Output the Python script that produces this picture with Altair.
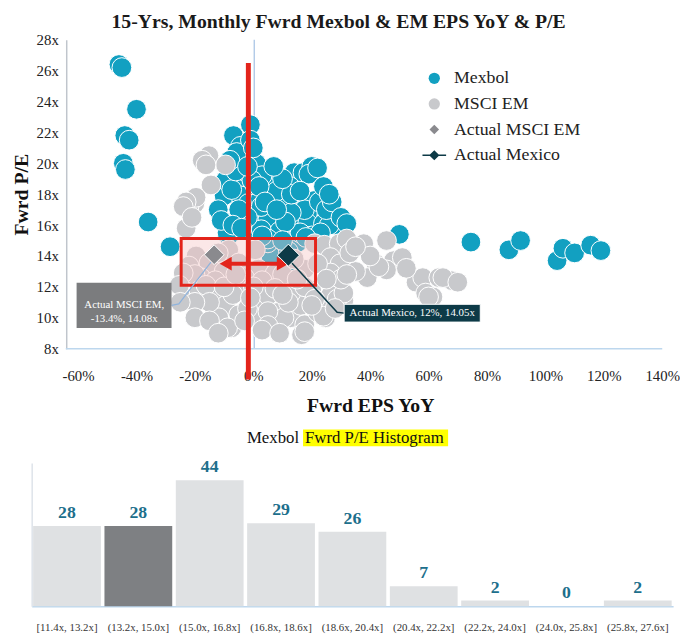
import altair as alt
import pandas as pd

FONT = "Liberation Serif"

# ---------------- data: scatter ----------------
mexbol_eps = [-46, -45, -40, -44, -42.5, -44.5, -43.8, -36, -28.5, -8.5,
              50, 74.5, 87.5, 91.5, 104, 106, 110, 115.5, 119,
              -1, -6.8, -4.4, -3.4, -5.7, -0.7, 1, -9, -10, -6,
              -2.7, -4.4, -1.7, 2.7, 6, 6.8, 14, 17, 20, 19,
              12.5, 11.8, 21, 18.6, 16, 10.8, 4, 1.7, 7.4, 14,
              18.6, 24, 28, 0.7, 8.4, -9.5, -7.4, 9, 17.5, 22.6,
              5, -9, 9, 2.4, 8.4, 11.8, 6, 5, 15, 2.7,
              26, 2.7, 5, 12, -2, -5, 1, -1, -3, 3,
              8, 13, 20, 23, 16, 11, 0.5, -0.5, 2,
              25, 27, 30, 32, 22, 24, 26, -12, -11, -7,
              -4, 3, 10, 18, -6, -8, 4, 8, 13, 16,
              10, 7, -2, 0]
mexbol_pe = [26.4, 26.2, 23.5, 21.8, 21.5, 20.0, 19.6, 16.2, 14.6, 15.3,
             15.4, 14.9, 14.4, 15.0, 13.7, 14.5, 14.2, 14.7, 14.35,
             22.5, 21.8, 21.1, 20.6, 20.7, 19.3, 18.8, 18.7, 17.9, 18.3,
             18.7, 17.9, 17.4, 18.0, 18.8, 17.4, 19.4, 19.4, 19.8, 19.3,
             18.5, 17.6, 17.6, 16.8, 16.6, 17.0, 16.8, 16.1, 15.9, 15.9,
             16.1, 16.1, 16.0, 15.6, 15.4, 18.9, 18.3, 17.5, 17.0, 17.5,
             16.4, 15.5, 15.6, 17.7, 13.7, 13.3, 14.0, 14.85, 14.85, 17.2,
             16.0, 15.7, 15.1, 14.3, 16.5, 17.0, 20.0, 21.5, 19.5, 19.2,
             18.2, 16.8, 15.3, 15.5, 15.5, 16.2, 18.6, 18.9, 18.5,
             17.0, 17.5, 16.5, 16.1, 19.7, 18.5, 18.0, 17.0, 16.3, 16.0,
             15.8, 15.3, 15.0, 15.2, 19.5, 20.2, 17.5, 17.0, 18.0, 18.2,
             19.0, 19.8, 19.8, 21.0]

msci_eps = [-15.2, -17.5, -9.5, -16.2, -14.5, -20, -22, -19.6, -23, -24, -23, -21,
            -19.6, -15.2, -22, -8.4, -5, 0.7, 1.7, 7.4, 17.6, 21,
            -12, -10, -3, 3, 10, 14, -18, -13, -20, -24,
            -23, -18.6, -12.8, -9.5, -11.8, -7.4, -5, 0.7, 1.7, 5,
            8.4, 12.8, 16.2, 17.6, 22, 26.4, 31, -25.3, -16.2, -4,
            7.4, 12.8, -8.8, 16.5, 24.7, 10.5, -15, -20, -2, 5,
            -7, 12, 20, -3,
            24.3, 29.4, 32, 37.8, 45.6, 26.4, 29.7, 26.4, 42, 48,
            45.6, 51, 39, 55.7, 58, 63.5, 68, 59, 61.5, 28.7,
            31, 24.3, 17.6, 21, 43, 52.4, 64.9, 60, 24, 17.6,
            35, 22, 33, 40, 70,
            -25, -20, -10, 0, 10, 15, 5, -15, 20, -12,
            3, 9, 28, 30, -6, -1, 25, 32, 35]
msci_pe = [20.5, 20.2, 19.9, 19.9, 18.6, 17.4, 17.2, 17.8, 17.5, 17.2, 15.8, 16.5,
           14.0, 13.55, 13.35, 14.4, 13.55, 14.4, 13.15, 12.85, 13.15, 14.8,
           14.2, 13.0, 12.6, 12.4, 12.8, 13.8, 12.6, 12.4, 12.8, 12.9,
           11.55, 11.75, 11.45, 10.8, 10.0, 9.35, 10.2, 11.0, 10.0, 11.45,
           10.35, 10.0, 10.8, 9.55, 10.35, 11.45, 11.1, 12.1, 12.1, 11.9,
           11.9, 11.6, 9.35, 8.9, 10.0, 10.0, 11.0, 11.0, 10.6, 10.4,
           11.5, 11.0, 11.8, 9.8,
           14.7, 14.8, 15.1, 14.8, 15.0, 13.9, 13.5, 12.9, 13.5, 13.7,
           13.1, 13.9, 12.6, 12.3, 12.6, 12.6, 12.4, 11.6, 11.35, 11.2,
           11.6, 10.4, 12.0, 11.2, 13.3, 13.2, 12.6, 11.35, 10.1, 9.1,
           13.0, 13.5, 14.2, 14.0, 12.3,
           11.0, 10.0, 12.0, 12.0, 11.5, 12.5, 9.5, 9.8, 10.8, 9.0,
           9.2, 9.0, 10.6, 12.5, 12.8, 11.3, 12.5, 12.8, 14.6]

actual_em_eps, actual_em_pe = -13.4, 14.08
actual_mx_eps, actual_mx_pe = 12.0, 14.05

series_names = ["Mexbol", "MSCI EM", "Actual MSCI EM", "Actual Mexico"]
series_colors = ["#12a0c1", "#c8c9cc", "#8a8a8e", "#0d3a47"]

y_ticks = [8, 10, 12, 14, 16, 18, 20, 22, 24, 26, 28]
x_ticks = [-60, -40, -20, 0, 20, 40, 60, 80, 100, 120, 140]

# ---------------- data: histogram ----------------
hist_bins = ["[11.4x, 13.2x]", "(13.2x, 15.0x]", "(15.0x, 16.8x]", "(16.8x, 18.6x]",
             "(18.6x, 20.4x]", "(20.4x, 22.2x]", "(22.2x, 24.0x]", "(24.0x, 25.8x]",
             "(25.8x, 27.6x]"]
hist_counts = [28, 28, 44, 29, 26, 7, 2, 0, 2]
current_bin = "(13.2x, 15.0x]"

# ---------------- styles ----------------
RED = "#e3241b"
SMALL_DIAMOND = "M0,-0.85L0.85,0L0,0.85L-0.85,0Z"
LINE_DIAMOND = ("M-2.1,-0.12L-0.78,-0.12L0,-0.9L0.78,-0.12L2.1,-0.12L2.1,0.12"
                "L0.78,0.12L0,0.9L-0.78,0.12L-2.1,0.12Z")
series_shapes = ["circle", "circle", SMALL_DIAMOND, LINE_DIAMOND]

pts = pd.concat([
    pd.DataFrame({"eps": mexbol_eps, "pe": mexbol_pe, "series": "Mexbol"}),
    pd.DataFrame({"eps": msci_eps, "pe": msci_pe, "series": "MSCI EM"}),
], ignore_index=True)
pts["idx"] = range(len(pts))

xs = alt.Scale(domain=[-60, 140], range=[47, 639], nice=False, zero=False)
ys = alt.Scale(domain=[8, 28], nice=False, zero=False)

x_axis = alt.Axis(values=x_ticks, labelExpr="datum.value + '%'",
                  domain=False, ticks=False, grid=False, labelFlush=False,
                  labelOverlap=False,
                  labelFont=FONT, labelFontSize=15, labelColor="#222", labelPadding=20,
                  title="Fwrd EPS YoY", titleFont=FONT, titleFontSize=20,
                  titleFontWeight="bold", titleColor="#111", titlePadding=13)
y_axis = alt.Axis(values=y_ticks, labelExpr="datum.value + 'x'", tickCount=11,
                  offset=-35, domainColor="#c0c5cc", domainWidth=1.5, ticks=False,
                  grid=False, labelFlush=False, labelOverlap=False, labelFont=FONT,
                  labelFontSize=15, labelColor="#222", labelPadding=8, title="Fwrd P/E",
                  titleFont=FONT, titleFontSize=20, titleFontWeight="bold",
                  titleColor="#111", titlePadding=5)

leg = alt.Legend(orient="none", legendX=399, legendY=30, title=None, labelFont=FONT,
                 labelFontSize=18, labelColor="#222", symbolSize=130,
                 symbolStrokeWidth=0, rowPadding=8, labelOffset=11, padding=0)

X = alt.X("eps:Q")
Y = alt.Y("pe:Q")

zero_line = alt.Chart(pd.DataFrame({"eps": [0.3], "pe": [28], "pe2": [8]})).mark_rule(
    color="#8fb3dc", strokeWidth=1).encode(
    x=alt.X("eps:Q", scale=xs, axis=x_axis),
    y=alt.Y("pe:Q", scale=ys, axis=y_axis), y2="pe2:Q")

x_base = alt.Chart(pd.DataFrame({"eps": [-64.2], "eps2": [140], "pe": [8]})).mark_rule(
    color="#bdd7ee", strokeWidth=1.5).encode(x=X, x2="eps2:Q", y=Y)

points = alt.Chart(pts).mark_point(filled=True, size=400, stroke="white",
                                   strokeWidth=1, opacity=1).encode(
    x=X, y=Y,
    color=alt.Color("series:N", scale=alt.Scale(domain=series_names, range=series_colors),
                    legend=leg),
    shape=alt.Shape("series:N", scale=alt.Scale(domain=series_names, range=series_shapes),
                    legend=leg),
    order=alt.Order("idx:Q"),
)

box = alt.Chart(pd.DataFrame({"eps": [-24.7], "eps2": [21.3], "pe": [15.13], "pe2": [12.1]})
                ).mark_rect(fill="#f4c2c2", fillOpacity=0.4, stroke=RED, strokeWidth=3
                            ).encode(x=X, x2="eps2:Q", y=Y, y2="pe2:Q")

red_v = alt.Chart(pd.DataFrame({"eps": [-1.7], "pe": [26.5], "pe2": [6.0]})).mark_rule(
    color=RED, strokeWidth=5).encode(x=X, y=Y, y2="pe2:Q")

arrow_line = alt.Chart(pd.DataFrame({"eps": [-9.5], "eps2": [10.1], "pe": [13.5]})).mark_rule(
    color=RED, strokeWidth=4).encode(x=X, x2="eps2:Q", y=Y)
arrow_l = alt.Chart(pd.DataFrame({"eps": [-9.46], "pe": [13.5]})).mark_point(
    shape="triangle-left", filled=True, size=196, color=RED, opacity=1).encode(x=X, y=Y)
arrow_r = alt.Chart(pd.DataFrame({"eps": [10.1], "pe": [13.5]})).mark_point(
    shape="triangle-right", filled=True, size=196, color=RED, opacity=1).encode(x=X, y=Y)

lead_em = alt.Chart(pd.DataFrame({"eps": [-28, -25.5, -14.5], "pe": [10.8, 10.9, 13.6],
                                  "o": [0, 1, 2]})).mark_line(
    color="#8fb3dc", strokeWidth=1.2).encode(x=X, y=Y, order="o:Q")
lead_mx = alt.Chart(pd.DataFrame({"eps": [11, 28.7, 31.1], "pe": [14.0, 10.35, 10.3],
                                  "o": [0, 1, 2]})).mark_line(
    color="#0d3a47", strokeWidth=1.5).encode(x=X, y=Y, order="o:Q")

dia_em = alt.Chart(pd.DataFrame({"eps": [actual_em_eps], "pe": [actual_em_pe]})).mark_point(
    shape="diamond", filled=True, size=400, color="#8a8a8e", stroke="white",
    strokeWidth=1, opacity=1).encode(x=X, y=Y)
dia_mx = alt.Chart(pd.DataFrame({"eps": [actual_mx_eps], "pe": [actual_mx_pe]})).mark_point(
    shape="diamond", filled=True, size=500, color="#0d3a47", stroke="white",
    strokeWidth=1, opacity=1).encode(x=X, y=Y)

ann_em_box = alt.Chart(pd.DataFrame({"eps": [-60.5], "eps2": [-28], "pe": [12.27],
                                     "pe2": [9.34]})).mark_rect(color="#7b7c7e").encode(
    x=X, x2="eps2:Q", y=Y, y2="pe2:Q")
ann_em_txt = alt.Chart(pd.DataFrame({"eps": [-44.2], "pe": [10.85],
                                     "t": [f"Actual MSCI EM,\n{actual_em_eps}%, {actual_em_pe:.2f}x"]})
                       ).mark_text(color="white", font=FONT, fontSize=11, lineBreak="\n",
                                   lineHeight=15, align="center", baseline="middle").encode(
    x=X, y=Y, text="t:N")
ann_mx_box = alt.Chart(pd.DataFrame({"eps": [31.1], "eps2": [77.7], "pe": [10.87],
                                     "pe2": [9.72]})).mark_rect(
    color="#0d3a47", stroke="white", strokeWidth=1).encode(x=X, x2="eps2:Q", y=Y, y2="pe2:Q")
ann_mx_txt = alt.Chart(pd.DataFrame({"eps": [54.4], "pe": [10.3],
                                     "t": [f"Actual Mexico, {actual_mx_eps:.0f}%, {actual_mx_pe:.2f}x"]})
                       ).mark_text(color="white", font=FONT, fontSize=11, align="center",
                                   baseline="middle").encode(x=X, y=Y, text="t:N")

scatter = alt.layer(
    zero_line, x_base, points, box, red_v, arrow_line, arrow_l, arrow_r,
    lead_em, lead_mx, dia_em, dia_mx, ann_em_box, ann_em_txt, ann_mx_box, ann_mx_txt
).properties(
    width=650, height=313,
    title=alt.TitleParams("15-Yrs, Monthly Fwrd Mexbol & EM  EPS YoY & P/E", font=FONT,
                          fontSize=20, fontWeight="bold", color="#1a1a1a",
                          anchor="middle", dx=-14, offset=1),
)

# ---------------- histogram ----------------
hist_df = pd.DataFrame({"bin": hist_bins, "count": hist_counts})
hx = alt.X("bin:N", sort=hist_bins, scale=alt.Scale(paddingInner=0.05, paddingOuter=0.02),
           axis=alt.Axis(title=None, labelAngle=0, ticks=False, domainColor="#bdd7ee",
                         domainWidth=1.5, labelFont=FONT, labelFontSize=11,
                         labelColor="#333", labelPadding=16, labelOverlap=False))
hy = alt.Y("count:Q", scale=alt.Scale(domain=[0, 50], nice=False),
           axis=alt.Axis(title=None, labels=False, ticks=False, grid=False,
                         domainColor="#dde3ea", domainWidth=1.5))

bars = alt.Chart(hist_df).mark_bar().encode(
    x=hx, y=hy,
    color=alt.condition(f"datum.bin == '{current_bin}'", alt.value("#7e8083"),
                        alt.value("#dfe1e3")),
)
vals = alt.Chart(hist_df).mark_text(dy=-4, baseline="bottom", fontWeight="bold",
                                    fontSize=18, font=FONT, color="#1d6f8c").encode(
    x=alt.X("bin:N", sort=hist_bins), y="count:Q", text="count:Q")

hl_rect = alt.Chart(pd.DataFrame({"a": [1]})).mark_rect(color="#ffff00").encode(
    x=alt.value(275), x2=alt.value(422), y=alt.value(-34), y2=alt.value(-17))
hl_t1 = alt.Chart(pd.DataFrame({"t": ["Mexbol"]})).mark_text(
    align="right", baseline="middle", font=FONT, fontSize=17, color="#111").encode(
    x=alt.value(271), y=alt.value(-25), text="t:N")
hl_t2 = alt.Chart(pd.DataFrame({"t": ["Fwrd P/E Histogram"]})).mark_text(
    align="left", baseline="middle", font=FONT, fontSize=17, color="#111").encode(
    x=alt.value(277), y=alt.value(-25), text="t:N")

hist = alt.layer(bars, vals, hl_rect, hl_t1, hl_t2).properties(width=650, height=145)

chart = alt.vconcat(scatter, hist, spacing=14).resolve_scale(
    color="independent", shape="independent"
).configure_view(stroke=None).configure_axisY(labelOverlap=False).properties(
    padding={"left": 3, "top": 0, "right": 0, "bottom": 0}, background="white"
)

chart.save("out.html", embed_options={"renderer": "svg", "actions": False})
